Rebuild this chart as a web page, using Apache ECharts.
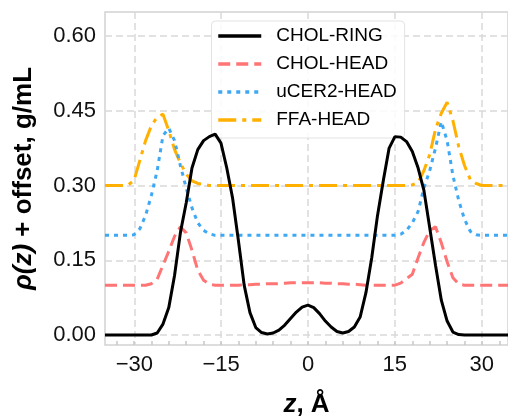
<!DOCTYPE html>
<html>
<head>
<meta charset="utf-8">
<script src="https://cdn.jsdelivr.net/npm/echarts@6/dist/echarts.min.js"></script>
<style>html,body{margin:0;padding:0;background:#fff}#c{width:508px;height:416px}</style>
</head>
<body>
<div id="c"></div>
<script>
const z = [-35,-34,-33,-32,-31,-30,-29,-28,-27,-26,-25,-24,-23,-22,-21,-20,-19,-18,-17,-16,-15,-14,-13,-12,-11,-10,-9,-8,-7,-6,-5,-4,-3,-2,-1,0,1,2,3,4,5,6,7,8,9,10,11,12,13,14,15,16,17,18,19,20,21,22,23,24,25,26,27,28,29,30,31,32,33,34,35];

const cholRing = [0,0,0,0,0,0,0,0,0,
  0.004,0.022,0.055,0.12,0.205,0.265,0.335,0.372,0.39,0.398,0.403,0.385,0.335,0.275,0.19,0.10,0.045,0.015,0.005,0.002,0.004,0.01,0.02,0.033,0.046,0.056,
  0.060,
  0.055,0.043,0.028,0.016,0.007,0.004,0.007,0.016,0.036,0.085,0.155,0.24,0.31,0.375,0.398,0.397,0.388,0.368,0.335,0.29,0.215,0.14,0.07,0.028,0.006,0.001,
  0,0,0,0,0,0,0,0,0];

const cholHead = [0.10,0.10,0.10,0.10,0.10,0.10,0.10,0.10,
  0.103,0.112,0.14,0.168,0.198,0.217,0.205,0.17,0.13,0.11,0.102,0.10,0.10,0.10,0.10,0.10,0.101,0.101,0.102,0.102,0.103,0.103,0.103,0.104,0.105,0.105,0.105,
  0.105,
  0.105,0.105,0.104,0.104,0.103,0.103,0.102,0.102,0.101,0.100,0.10,0.10,0.10,0.10,0.10,0.104,0.113,0.122,0.155,0.186,0.21,0.217,0.185,0.147,0.115,0.102,
  0.10,0.10,0.10,0.10,0.10,0.10,0.10,0.10,0.10];

const ucer2Head = [0.20,0.20,0.20,0.20,0.20,
  0.201,0.213,0.24,0.28,0.33,0.40,0.415,0.39,0.34,0.295,0.255,0.225,0.21,0.203,0.20,
  0.20,0.20,0.20,0.20,0.20,0.20,0.20,0.20,0.20,0.20,0.20,0.20,0.20,0.20,0.20,0.20,0.20,0.20,0.20,0.20,0.20,0.20,0.20,0.20,0.20,0.20,0.20,0.20,0.20,0.20,0.20,
  0.202,0.21,0.225,0.248,0.295,0.33,0.375,0.428,0.39,0.32,0.27,0.232,0.208,0.201,
  0.20,0.20,0.20,0.20,0.20,0.20];

const ffaHead = [0.30,0.30,0.30,0.30,
  0.301,0.31,0.35,0.39,0.42,0.437,0.443,0.41,0.372,0.345,0.323,0.309,0.304,0.302,
  0.30,0.30,0.30,0.30,0.30,0.30,0.30,0.30,0.30,0.30,0.30,0.30,0.30,0.30,0.30,0.30,0.30,0.30,0.30,0.30,0.30,0.30,0.30,0.30,0.30,0.30,0.30,0.30,0.30,0.30,0.30,0.30,0.30,0.30,0.30,
  0.301,0.306,0.33,0.362,0.413,0.445,0.467,0.43,0.378,0.34,0.312,0.304,
  0.30,0.30,0.30,0.30,0.30,0.30];

const seriesNames = ['CHOL-RING','CHOL-HEAD','uCER2-HEAD','FFA-HEAD'];
const xTickLabels = [-30,-15,0,15,30];
const yTickLabels = [0,0.15,0.30,0.45,0.60];

const FONT = '"Liberation Sans", Arial, Helvetica, sans-serif';
const GRIDC = '#d9d9d9';
const FRAMEC = '#d2d2d2';

function pairs(vals){ return z.map((v,i)=>[v, vals[i]]); }

const chart = echarts.init(document.getElementById('c'), null, {renderer:'canvas'});

const option = {
  animation:false,
  backgroundColor:'#fff',
  textStyle:{fontFamily:FONT},
  grid:[
    {left:105, right:0, top:12, bottom:71, show:true, borderColor:FRAMEC, borderWidth:1.5, backgroundColor:'transparent', containLabel:false, outerBoundsMode:'none'},
    {left:134.3, right:26.3, top:12, bottom:71, containLabel:false, outerBoundsMode:'none'},
    {left:105, right:0, top:36, bottom:81, containLabel:false, outerBoundsMode:'none'},
    {left:116.6, right:8.6, top:12, bottom:71, containLabel:false, outerBoundsMode:'none'}
  ],
  xAxis:[
    {gridIndex:0, type:'value', min:-35, max:34.5, axisLine:{show:false}, axisTick:{show:false}, axisLabel:{show:false}, splitLine:{show:false},
     name:'{i|z}, Å', nameLocation:'middle', nameGap:47,
     nameTextStyle:{fontFamily:FONT, fontSize:26, fontWeight:'bold', color:'#000',
       rich:{i:{fontFamily:FONT, fontSize:26, fontWeight:'bold', fontStyle:'italic', color:'#000'}}}},
    {gridIndex:1, type:'value', min:xTickLabels[0], max:xTickLabels[xTickLabels.length-1], interval:15,
     axisLine:{show:false}, axisTick:{show:false},
     axisLabel:{show:true, margin:9, fontSize:22, color:'#111', fontFamily:FONT,
       formatter:v=> v<0 ? '\u2212'+Math.abs(v) : String(v)},
     splitLine:{show:true, lineStyle:{color:GRIDC, width:1.5, type:[7,4]}}},
    {gridIndex:2, type:'value', min:0, max:1, show:false},
    {gridIndex:3, type:'value', min:-33, max:33, interval:3,
     axisLine:{show:false}, axisLabel:{show:false}, splitLine:{show:false},
     axisTick:{show:true, inside:true, length:4, lineStyle:{color:'#c8c8c8', width:1.5}}}
  ],
  yAxis:[
    {gridIndex:0, type:'value', min:-0.02, max:0.648, axisLine:{show:false}, axisTick:{show:false}, axisLabel:{show:false}, splitLine:{show:false},
     name:'{i|ρ(z)} + offset, g/mL', nameLocation:'middle', nameGap:68, nameRotate:90,
     nameTextStyle:{fontFamily:FONT, fontSize:26, fontWeight:'bold', color:'#000',
       rich:{i:{fontFamily:FONT, fontSize:26, fontWeight:'bold', fontStyle:'italic', color:'#000'}}}},
    {gridIndex:1, type:'value', min:0, max:1, show:false},
    {gridIndex:2, type:'value', min:yTickLabels[0], max:yTickLabels[yTickLabels.length-1], interval:0.15,
     axisLine:{show:false}, axisTick:{show:false},
     axisLabel:{show:true, margin:9, fontSize:22, color:'#111', fontFamily:FONT, formatter:v=>v.toFixed(2)},
     splitLine:{show:true, lineStyle:{color:GRIDC, width:1.5, type:[7,4]}}},
    {gridIndex:3, type:'value', min:0, max:1, show:false}
  ],
  legend:{
    orient:'vertical', left:211.5, top:21, selectedMode:false,
    data:seriesNames,
    itemWidth:43, itemHeight:14, itemGap:8,
    padding:[5,8,8,5],
    itemStyle:{color:'rgba(0,0,0,0)', borderWidth:0, opacity:0},
    lineStyle:{width:3.5},
    backgroundColor:'rgba(255,255,255,0.85)', borderColor:'#e3e3e3', borderWidth:1, borderRadius:4,
    textStyle:{fontFamily:FONT, fontSize:19, color:'#000', lineHeight:20, padding:[0,0,0,10]}
  },
  series:[
    {name:seriesNames[0], type:'line', xAxisIndex:0, yAxisIndex:0, data:pairs(cholRing), symbol:'none', showSymbol:false, z:6,
     lineStyle:{color:'#000000', width:3}, itemStyle:{color:'#000000'}},
    {name:seriesNames[1], type:'line', xAxisIndex:0, yAxisIndex:0, data:pairs(cholHead), symbol:'none', showSymbol:false, z:5,
     lineStyle:{color:'#ff7474', width:3, type:[12,6]}, itemStyle:{color:'#ff7474'}},
    {name:seriesNames[2], type:'line', xAxisIndex:0, yAxisIndex:0, data:pairs(ucer2Head), symbol:'none', showSymbol:false, z:4,
     lineStyle:{color:'#3ea8f5', width:3, type:[4,5]}, itemStyle:{color:'#3ea8f5'}},
    {name:seriesNames[3], type:'line', xAxisIndex:0, yAxisIndex:0, data:pairs(ffaHead), symbol:'none', showSymbol:false, z:3,
     lineStyle:{color:'#ffb000', width:3, type:[18,6,4,6]}, itemStyle:{color:'#ffb000'}}
  ]
};
chart.setOption(option);
</script>
</body>
</html>
